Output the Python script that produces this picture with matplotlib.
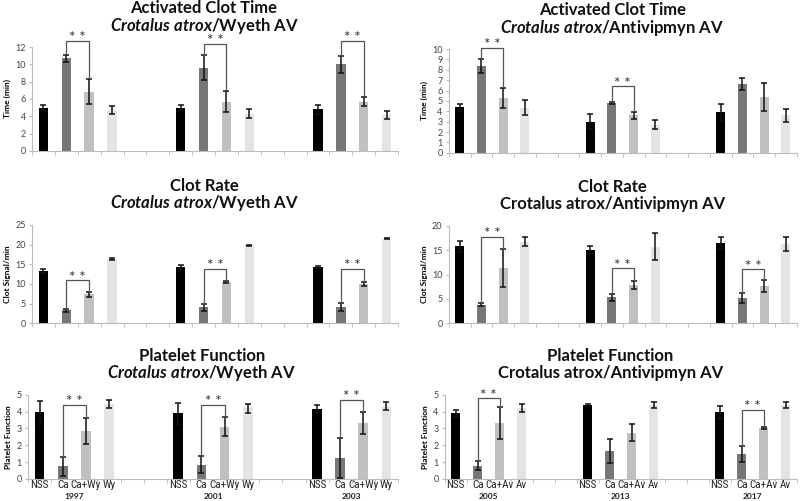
import numpy as np
import matplotlib
matplotlib.use("Agg")
import matplotlib.pyplot as plt

plt.rcParams['font.family'] = ['Lato', 'DejaVu Sans']
plt.rcParams['mathtext.fontset'] = 'custom'
plt.rcParams['mathtext.it'] = 'Lato:italic:bold'
plt.rcParams['mathtext.rm'] = 'Lato:bold'

# bar order within each group: NSS, Ca, Ca+AV, AV
bar_colors = ['#000000', '#777777', '#c0c0c0', '#e4e4e4']

# ---- Activated clot time, Wyeth ----
act_wy = [5.0, 10.7, 6.85, 4.75,  5.0, 9.6, 5.7, 4.3,  4.8, 10.0, 5.7, 4.15]
act_wy_err = [0.3, 0.4, 1.45, 0.45,  0.3, 1.45, 1.2, 0.55,  0.5, 1.0, 0.55, 0.45]
act_wy_sig = [(0, 12.7, 11.2, 8.4), (1, 12.4, 11.1, 7.0), (2, 12.7, 11.0, 6.3)]

# ---- Activated clot time, Antivipmyn ----
act_av = [4.4, 8.35, 5.3, 4.35,  3.0, 4.8, 3.6, 2.7,  3.95, 6.65, 5.4, 3.6]
act_av_err = [0.35, 0.65, 0.95, 0.75,  0.75, 0.12, 0.35, 0.45,  0.75, 0.6, 1.35, 0.6]
act_av_sig = [(0, 10.1, 9.0, 6.3), (1, 6.4, 4.9, 4.0)]

# ---- Clot rate, Wyeth ----
cr_wy = [13.3, 3.3, 7.3, 16.3,  14.3, 4.0, 10.5, 19.8,  14.3, 4.1, 10.0, 21.5]
cr_wy_err = [0.6, 0.4, 0.6, 0.3,  0.6, 0.8, 0.3, 0.2,  0.25, 1.1, 0.6, 0.2]
cr_wy_sig = [(0, 10.9, 3.7, 7.9), (1, 13.9, 4.8, 10.8), (2, 13.9, 5.2, 10.6)]

# ---- Clot rate, Antivipmyn ----
cr_av = [15.8, 3.8, 11.3, 16.8,  15.0, 5.3, 7.9, 15.7,  16.5, 5.2, 7.6, 16.3]
cr_av_err = [1.2, 0.3, 3.9, 0.9,  0.8, 0.7, 0.8, 2.8,  1.3, 1.0, 1.2, 1.5]
cr_av_sig = [(0, 17.8, 4.1, 15.2), (1, 11.3, 6.0, 8.7), (2, 11.1, 6.2, 8.8)]

# ---- Platelet function, Wyeth ----
pf_wy = [3.95, 0.75, 2.85, 4.45,  3.9, 0.85, 3.1, 4.2,  4.15, 1.25, 3.3, 4.35]
pf_wy_err = [0.7, 0.55, 0.75, 0.25,  0.62, 0.5, 0.57, 0.28,  0.25, 1.2, 0.65, 0.25]
pf_wy_sig = [(0, 4.4, 1.3, 3.6), (1, 4.4, 1.35, 3.65), (2, 4.7, 2.45, 3.95)]

# ---- Platelet function, Antivipmyn ----
pf_av = [3.9, 0.78, 3.35, 4.2,  4.4, 1.68, 2.75, 4.4,  3.95, 1.48, 3.02, 4.42]
pf_av_err = [0.22, 0.27, 0.95, 0.25,  0.08, 0.72, 0.52, 0.18,  0.38, 0.48, 0.07, 0.18]
pf_av_sig = [(0, 4.78, 1.05, 4.3), (2, 4.1, 1.95, 3.1)]

wy_labels = ['NSS', 'Ca', 'Ca+Wy', 'Wy']
av_labels = ['NSS', 'Ca', 'Ca+Av', 'Av']
wy_years = ['1997', '2001', '2003']
av_years = ['2005', '2013', '2017']

label_font = ['Liberation Sans Narrow', 'Arial Narrow', 'Roboto Condensed',
              'Archivo Narrow', 'PT Sans Narrow', 'Liberation Sans', 'DejaVu Sans']

fig = plt.figure(figsize=(8, 5.01), dpi=100)

panels = [
    # rect, means, errs, sig, ylim, ystep, ylabel, title1, title2, labels, years
    ([0.040, 0.699, 0.4575, 0.207], act_wy, act_wy_err, act_wy_sig, 12, 2, 'Time (min)',
     'Activated Clot Time', r'$\mathit{Crotalus\ atrox}$/Wyeth AV', None, None),
    ([0.561, 0.695, 0.435, 0.207], act_av, act_av_err, act_av_sig, 10, 1, 'Time (min)',
     'Activated Clot Time', r'$\mathit{Crotalus\ atrox}$/Antivipmyn AV', None, None),
    ([0.040, 0.355, 0.4575, 0.196], cr_wy, cr_wy_err, cr_wy_sig, 25, 5, 'Clot Signal/min',
     'Clot Rate', r'$\mathit{Crotalus\ atrox}$/Wyeth AV', None, None),
    ([0.561, 0.355, 0.435, 0.194], cr_av, cr_av_err, cr_av_sig, 20, 5, 'Clot Signal/min',
     'Clot Rate', 'Crotalus atrox/Antivipmyn AV', None, None),
    ([0.035, 0.044, 0.4625, 0.168], pf_wy, pf_wy_err, pf_wy_sig, 5, 1, 'Platelet Function',
     'Platelet Function', r'$\mathit{Crotalus\ atrox}$/Wyeth AV', wy_labels, wy_years),
    ([0.556, 0.044, 0.440, 0.168], pf_av, pf_av_err, pf_av_sig, 5, 1, 'Platelet Function',
     'Platelet Function', 'Crotalus atrox/Antivipmyn AV', av_labels, av_years),
]

for rect, means, errs, sig, ytop, ystep, ylabel, t1, t2, labels, years in panels:
    ax = fig.add_axes(rect)
    x = np.array([g * 6 + j for g in range(3) for j in range(4)])
    cols = [bar_colors[j] for g in range(3) for j in range(4)]
    ax.bar(x, means, width=0.42, color=cols, zorder=2)
    ax.errorbar(x, means, yerr=errs, fmt='none', ecolor='#111111',
                elinewidth=1.1, capsize=2.5, capthick=1.1, zorder=3)

    # significance brackets between Ca and Ca+AV
    for g, top, left_low, right_low in sig:
        xl, xr = g * 6 + 1, g * 6 + 2
        ax.plot([xl, xl, xr, xr], [left_low, top, top, right_low],
                color='#555555', lw=0.9, clip_on=False, zorder=4)
        ax.annotate('* *', xy=((xl + xr) / 2, top), xytext=(0, -1),
                    textcoords='offset points', ha='center', va='baseline',
                    fontsize=11, color='#333333', annotation_clip=False)

    ax.set_xlim(-0.5, 15.5)
    ax.set_ylim(0, ytop)
    ax.set_yticks(np.arange(0, ytop + 0.01, ystep))
    ax.tick_params(axis='y', labelsize=6.5, labelcolor='#444444', length=2.5,
                   color='#bbbbbb', pad=2)
    ax.set_xticks(np.arange(-0.5, 16, 1), minor=True)
    ax.tick_params(axis='x', which='minor', length=3, color='#bbbbbb', direction='out')
    if labels is not None:
        ax.set_xticks(x)
        ax.set_xticklabels(labels * 3, fontsize=8, color='#222222', family=label_font)
        ax.tick_params(axis='x', which='major', length=0, pad=0.5)
        for g, yr in enumerate(years):
            ax.annotate(yr, xy=(g * 6 + 1.5, 0), xytext=(0, -12.3),
                        textcoords='offset points', ha='center', va='center',
                        fontsize=6, fontweight='bold', color='#222222')
    else:
        ax.set_xticks([])
    for s in ['top', 'right']:
        ax.spines[s].set_visible(False)
    for s in ['left', 'bottom']:
        ax.spines[s].set_color('#bbbbbb')
        ax.spines[s].set_linewidth(0.8)
    ax.set_ylabel(ylabel, fontsize=6, fontweight='bold', labelpad=3)

    cx = rect[0] + rect[2] * 0.47
    top_y = rect[1] + rect[3]
    fig.text(cx, top_y + 0.078, t1, ha='center', va='center', fontsize=12,
             fontweight='bold', color='#111111')
    fig.text(cx, top_y + 0.043, t2, ha='center', va='center', fontsize=12,
             fontweight='bold', color='#111111')

fig.savefig('out.png', dpi=100)
